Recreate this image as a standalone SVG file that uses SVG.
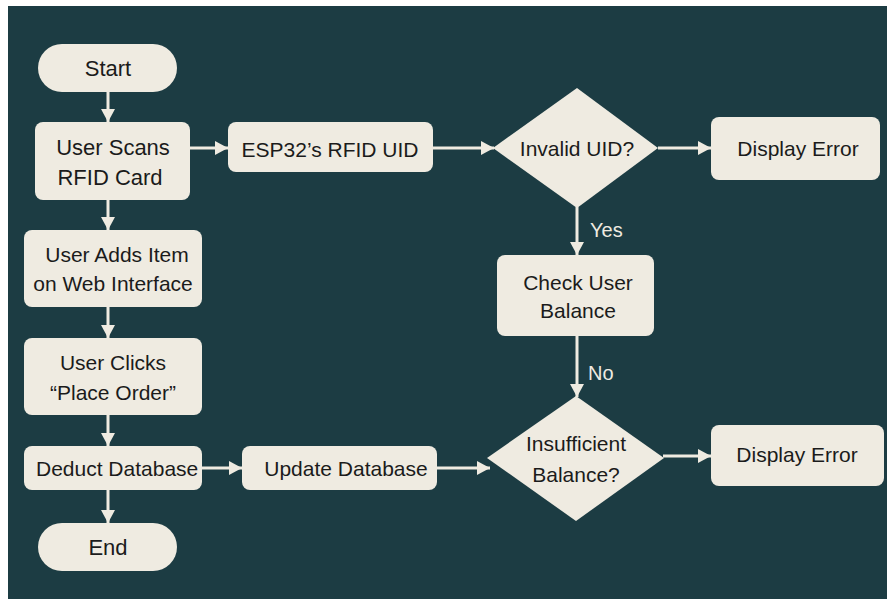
<svg xmlns="http://www.w3.org/2000/svg" width="888" height="599" viewBox="0 0 888 599">
<defs>
<style>
.n{fill:#efebe1;}
.t{font-family:"Liberation Sans",Arial,sans-serif;font-size:21px;fill:#1b1b1b;text-anchor:middle;}
.lbl{font-family:"Liberation Sans",Arial,sans-serif;font-size:20px;fill:#efebe1;}
.c{stroke:#efebe1;stroke-width:3;fill:none;marker-end:url(#ah);}
</style>
<marker id="ah" markerUnits="userSpaceOnUse" markerWidth="13" markerHeight="14" refX="13" refY="7" orient="auto">
<path d="M0,0 L13,7 L0,14 z" fill="#efebe1"/>
</marker>
</defs>
<rect x="0" y="0" width="888" height="599" fill="#ffffff"/>
<rect x="8" y="6" width="879" height="593" fill="#1c3c43"/>

<g id="connectors">
<line class="c" x1="108" y1="92" x2="108" y2="122"/>
<line class="c" x1="190" y1="148" x2="228" y2="148"/>
<line class="c" x1="433" y1="148" x2="494" y2="148"/>
<line class="c" x1="658" y1="148" x2="711" y2="148"/>
<line class="c" x1="577" y1="207" x2="577" y2="255"/>
<line class="c" x1="577" y1="336" x2="577" y2="397"/>
<line class="c" x1="663" y1="456" x2="711" y2="456"/>
<line class="c" x1="108" y1="200" x2="108" y2="230"/>
<line class="c" x1="108" y1="307" x2="108" y2="338"/>
<line class="c" x1="108" y1="415" x2="108" y2="446"/>
<line class="c" x1="202" y1="468" x2="242" y2="468"/>
<line class="c" x1="437" y1="468" x2="490" y2="468"/>
<line class="c" x1="108" y1="490" x2="108" y2="523"/>
<text class="lbl" x="590" y="237">Yes</text>
<text class="lbl" x="588" y="380">No</text>
</g>

<g id="start">
<rect class="n" x="38" y="44" width="139" height="48" rx="24"/>
<text class="t" x="108" y="76" style="font-size:22px">Start</text>
</g>
<g id="scan">
<rect class="n" x="35" y="122" width="155" height="78" rx="8"/>
<text class="t" x="113" y="155" style="font-size:22px">User Scans</text>
<text class="t" x="110" y="185" style="font-size:22px">RFID Card</text>
</g>
<g id="esp">
<rect class="n" x="228" y="122" width="205" height="50" rx="8"/>
<text class="t" x="330" y="157">ESP32’s RFID UID</text>
</g>
<g id="invalid">
<polygon class="n" points="577,88 658,148 577,208 493,148"/>
<text class="t" x="577" y="156">Invalid UID?</text>
</g>
<g id="err1">
<rect class="n" x="711" y="117" width="169" height="63" rx="8"/>
<text class="t" x="798" y="156">Display Error</text>
</g>
<g id="check">
<rect class="n" x="497" y="255" width="157" height="81" rx="8"/>
<text class="t" x="578" y="290">Check User</text>
<text class="t" x="578" y="318">Balance</text>
</g>
<g id="insufficient">
<polygon class="n" points="576,396 664,458 576,521 487,458"/>
<text class="t" x="576" y="451">Insufficient</text>
<text class="t" x="576" y="482">Balance?</text>
</g>
<g id="err2">
<rect class="n" x="711" y="425" width="173" height="61" rx="8"/>
<text class="t" x="797" y="462">Display Error</text>
</g>
<g id="adds">
<rect class="n" x="24" y="230" width="178" height="77" rx="8"/>
<text class="t" x="117" y="262">User Adds Item</text>
<text class="t" x="113" y="291">on Web Interface</text>
</g>
<g id="clicks">
<rect class="n" x="24" y="338" width="178" height="77" rx="8"/>
<text class="t" x="113" y="370">User Clicks</text>
<text class="t" x="113" y="400">“Place Order”</text>
</g>
<g id="deduct">
<rect class="n" x="24" y="446" width="178" height="44" rx="8"/>
<text class="t" x="36" y="476" style="text-anchor:start">Deduct Database</text>
</g>
<g id="update">
<rect class="n" x="242" y="446" width="195" height="44" rx="8"/>
<text class="t" x="346" y="476">Update Database</text>
</g>
<g id="end">
<rect class="n" x="38" y="523" width="139" height="48" rx="24"/>
<text class="t" x="108" y="555" style="font-size:22px">End</text>
</g>
</svg>
